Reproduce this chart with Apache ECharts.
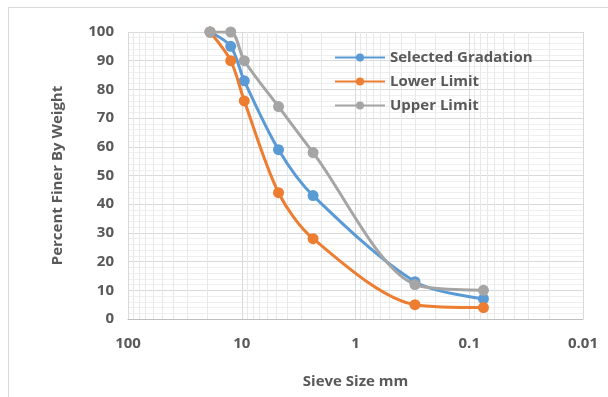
<!DOCTYPE html>
<html>
<head>
<meta charset="utf-8">
<script src="https://cdn.jsdelivr.net/npm/echarts@6/dist/echarts.min.js"></script>
<style>
  html, body { margin: 0; padding: 0; background: #fff; }
  #chart { position: absolute; left: 8px; top: 7px; width: 620px; height: 400px;
           border-left: 1px solid #d9d9d9; border-top: 1px solid #d9d9d9; }
  #wrap { position: relative; width: 608px; height: 397px; overflow: hidden; }
</style>
</head>
<body>
<div id="wrap"><div id="chart"></div></div>
<script>
// sieve sizes (mm)
const sieveSizes = [19, 12.5, 9.5, 4.75, 2.36, 0.3, 0.075];
const selectedGradation = [100, 95, 83, 59, 43, 13, 7];
const lowerLimit = [100, 90, 76, 44, 28, 5, 4];
const upperLimit = [100, 100, 90, 74, 58, 12, 10];
const seriesNames = ['Selected Gradation', 'Lower Limit', 'Upper Limit'];
const colors = ['#5B9BD5', '#ED7D31', '#A5A5A5'];

// minor log gridlines 2..9 in each decade
const minorX = [];
[0.01, 0.1, 1, 10].forEach(function (d) {
  for (let k = 2; k <= 9; k++) minorX.push(+(d * k).toPrecision(3));
});

const font = '"Open Sans", "Liberation Sans", sans-serif';
const txt = '#595959';

const pairs = arr => sieveSizes.map((s, i) => [s, arr[i]]);

const chart = echarts.init(document.getElementById('chart'));
chart.setOption({
  animation: false,
  textStyle: { fontFamily: font },
  grid: { left: 119, right: 46, top: 24, bottom: 89 },
  legend: {
    orient: 'vertical',
    left: 320, top: 37,
    itemGap: 9,
    itemWidth: 50, itemHeight: 10,
    z: 10,
    textStyle: { color: txt, fontSize: 15, fontWeight: 'bold', fontFamily: font },
    data: seriesNames
  },
  xAxis: {
    type: 'log',
    logBase: 10,
    min: 0.01, max: 100,
    inverse: true,
    name: 'Sieve Size mm',
    nameLocation: 'middle',
    nameGap: 55,
    nameTextStyle: { color: txt, fontSize: 15, fontWeight: 'bold' },
    axisLine: { lineStyle: { color: '#bfbfbf' } },
    axisTick: { show: false },
    axisLabel: { color: txt, fontSize: 15, fontWeight: 'bold', margin: 17,
      formatter: v => String(+v.toPrecision(3)) },
    splitLine: { show: true, lineStyle: { color: '#d9d9d9' } }
  },
  yAxis: {
    type: 'value',
    min: 0, max: 100, interval: 10,
    name: 'Percent Finer By Weight',
    nameLocation: 'middle',
    nameGap: 63,
    nameTextStyle: { color: txt, fontSize: 15, fontWeight: 'bold' },
    axisLine: { show: false },
    axisTick: { show: false },
    axisLabel: { color: txt, fontSize: 15, fontWeight: 'bold', margin: 14 },
    splitLine: { lineStyle: { color: '#d9d9d9' } },
    minorTick: { show: false, splitNumber: 5 },
    minorSplitLine: { show: true, lineStyle: { color: '#efefef' } }
  },
  series: [
    {
      name: 'grid-minor', type: 'line', data: [], silent: true, z: 0,
      markLine: {
        symbol: 'none', silent: true, label: { show: false }, z: 0,
        lineStyle: { color: '#e8e8e8', type: 'solid', width: 1 },
        data: minorX.map(v => ({ xAxis: v }))
      }
    }
  ].concat([selectedGradation, lowerLimit, upperLimit].map((arr, i) => ({
    name: seriesNames[i],
    type: 'line',
    smooth: 0.3,
    data: pairs(arr),
    symbol: 'circle',
    symbolSize: 11,
    z: 5 + i,
    itemStyle: { color: colors[i] },
    lineStyle: { width: 3, color: colors[i] }
  })))
});
</script>
</body>
</html>
